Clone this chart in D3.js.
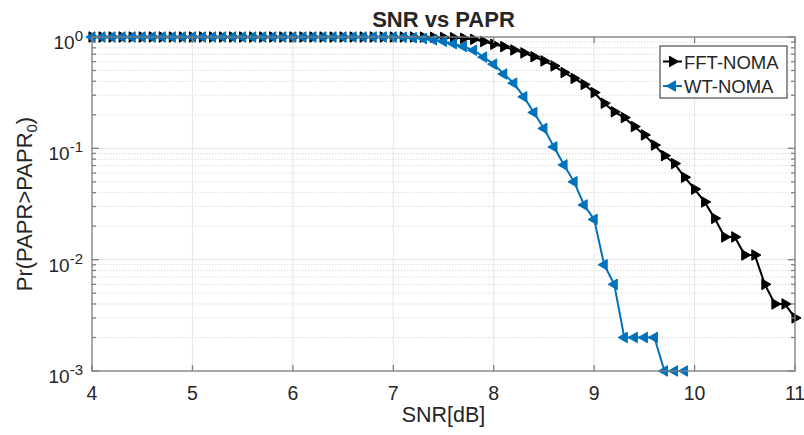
<!DOCTYPE html>
<html lang="en">
  <head>
    <meta charset="UTF-8" />
    <title>SNR vs PAPR</title>
    <style>
      body {
        margin: 0;
        background: #fff;
      }
      svg text {
        font-family: "Liberation Sans", Arial, Helvetica, sans-serif;
        fill: #262626;
      }
    </style>
  </head>
  <body>
    <div id="chart"></div>
    <script src="https://d3js.org/d3.v7.min.js"></script>
    <script>
      // SNR points (dB)
      const snr = [
        4.0, 4.1, 4.2, 4.3, 4.4, 4.5, 4.6, 4.7, 4.8, 4.9,
        5.0, 5.1, 5.2, 5.3, 5.4, 5.5, 5.6, 5.7, 5.8, 5.9,
        6.0, 6.1, 6.2, 6.3, 6.4, 6.5, 6.6, 6.7, 6.8, 6.9,
        7.0, 7.1, 7.2, 7.3, 7.4, 7.5, 7.6, 7.7, 7.8, 7.9,
        8.0, 8.1, 8.2, 8.3, 8.4, 8.5, 8.6, 8.7, 8.8, 8.9,
        9.0, 9.1, 9.2, 9.3, 9.4, 9.5, 9.6, 9.7, 9.8, 9.9,
        10.0, 10.1, 10.2, 10.3, 10.4, 10.5, 10.6, 10.7, 10.8, 10.9,
        11.0
      ];

      // Pr(PAPR > PAPR0)
      const fftNoma = [
        1, 1, 1, 1, 1, 1, 1, 1, 1, 1,
        1, 1, 1, 1, 1, 1, 1, 1, 1, 1,
        1, 1, 1, 1, 1, 1, 1, 1, 1, 1,
        1, 1, 1, 0.998, 0.995, 0.99, 0.985, 0.973, 0.953, 0.91,
        0.86, 0.82, 0.765, 0.72, 0.665, 0.61, 0.55, 0.48, 0.425, 0.375,
        0.317, 0.254, 0.213, 0.189, 0.157, 0.132, 0.107, 0.086, 0.073, 0.055,
        0.043, 0.033, 0.0235, 0.016, 0.016, 0.011, 0.011, 0.006, 0.004, 0.004,
        0.003
      ];

      const wtNoma = [
        1, 1, 1, 1, 1, 1, 1, 1, 1, 1,
        1, 1, 1, 1, 1, 1, 1, 1, 1, 1,
        1, 1, 1, 1, 1, 1, 1, 1, 1, 1,
        1, 0.995, 0.985, 0.97, 0.945, 0.915, 0.87, 0.82, 0.76, 0.66,
        0.57, 0.465, 0.385, 0.29, 0.21, 0.151, 0.103, 0.071, 0.05, 0.031,
        0.023, 0.009, 0.006, 0.002, 0.002, 0.002, 0.002, 0.001, 0.001, 0.001,
        null, null, null, null, null, null, null, null, null, null,
        null
      ];

      const xTicks = [4, 5, 6, 7, 8, 9, 10, 11];
      const yTickExps = [0, -1, -2, -3];
      const seriesNames = ["FFT-NOMA", "WT-NOMA"];
      const seriesColors = ["#000000", "#0072BD"];

      const width = 804;
      const height = 435;
      const margin = { top: 37, right: 9, bottom: 64, left: 92 };
      const innerW = width - margin.left - margin.right;
      const innerH = height - margin.top - margin.bottom;

      const x = d3.scaleLinear().domain([4, 11]).range([0, innerW]);
      const y = d3.scaleLog().domain([1e-3, 1]).range([innerH, 0]);

      const svg = d3
        .select("#chart")
        .append("svg")
        .attr("width", width)
        .attr("height", height);

      const g = svg
        .append("g")
        .attr("transform", `translate(${margin.left},${margin.top})`);

      // minor values for y: 2..9 x 10^k
      const minorY = [];
      [-3, -2, -1].forEach((e) => {
        for (let m = 2; m <= 9; m++) minorY.push(m * Math.pow(10, e));
      });

      // grid
      g.append("g")
        .selectAll("line")
        .data(minorY)
        .join("line")
        .attr("x1", 0)
        .attr("x2", innerW)
        .attr("y1", (d) => y(d))
        .attr("y2", (d) => y(d))
        .attr("stroke", "#dcdcdc")
        .attr("stroke-width", 1)
        .attr("stroke-dasharray", "1.5,1.5");

      g.append("g")
        .selectAll("line")
        .data(yTickExps.map((e) => Math.pow(10, e)))
        .join("line")
        .attr("x1", 0)
        .attr("x2", innerW)
        .attr("y1", (d) => y(d))
        .attr("y2", (d) => y(d))
        .attr("stroke", "#e6e6e6")
        .attr("stroke-width", 1);

      g.append("g")
        .selectAll("line")
        .data(xTicks)
        .join("line")
        .attr("x1", (d) => x(d))
        .attr("x2", (d) => x(d))
        .attr("y1", 0)
        .attr("y2", innerH)
        .attr("stroke", "#e6e6e6")
        .attr("stroke-width", 1);

      // series
      const line = d3
        .line()
        .defined((d) => d[1] != null)
        .x((d) => x(d[0]))
        .y((d) => y(d[1]));

      const tri = d3.symbol().type(d3.symbolTriangle).size(48);

      function drawSeries(values, color, angle) {
        const pts = snr.map((s, i) => [s, values[i]]);
        g.append("path")
          .datum(pts)
          .attr("fill", "none")
          .attr("stroke", color)
          .attr("stroke-width", 2)
          .attr("d", line);
        g.append("g")
          .selectAll("path")
          .data(pts.filter((d) => d[1] != null))
          .join("path")
          .attr("d", tri)
          .attr(
            "transform",
            (d) => `translate(${x(d[0])},${y(d[1])}) rotate(${angle})`
          )
          .attr("fill", color)
          .attr("stroke", color)
          .attr("stroke-width", 1);
      }

      drawSeries(fftNoma, seriesColors[0], 90);
      drawSeries(wtNoma, seriesColors[1], -90);

      // box + ticks
      const axisColor = "#808080";
      g.append("rect")
        .attr("width", innerW)
        .attr("height", innerH)
        .attr("fill", "none")
        .attr("stroke", axisColor)
        .attr("stroke-width", 1.3);

      const ticks = g.append("g").attr("stroke", axisColor).attr("stroke-width", 1.3);
      xTicks.forEach((t) => {
        ticks.append("line").attr("x1", x(t)).attr("x2", x(t)).attr("y1", innerH).attr("y2", innerH - 6);
        ticks.append("line").attr("x1", x(t)).attr("x2", x(t)).attr("y1", 0).attr("y2", 6);
      });
      yTickExps.forEach((e) => {
        const yy = y(Math.pow(10, e));
        ticks.append("line").attr("x1", 0).attr("x2", 7).attr("y1", yy).attr("y2", yy);
        ticks.append("line").attr("x1", innerW).attr("x2", innerW - 7).attr("y1", yy).attr("y2", yy);
      });
      minorY.forEach((v) => {
        const yy = y(v);
        ticks.append("line").attr("x1", 0).attr("x2", 4).attr("y1", yy).attr("y2", yy);
        ticks.append("line").attr("x1", innerW).attr("x2", innerW - 4).attr("y1", yy).attr("y2", yy);
      });

      // tick labels
      g.append("g")
        .selectAll("text")
        .data(xTicks)
        .join("text")
        .attr("x", (d) => x(d))
        .attr("y", innerH + 29)
        .attr("text-anchor", "middle")
        .attr("font-size", 19.5)
        .text((d) => d);

      const yl = g
        .append("g")
        .selectAll("text")
        .data(yTickExps)
        .join("text")
        .attr("x", -9)
        .attr("y", (d) => y(Math.pow(10, d)) + 12)
        .attr("text-anchor", "end")
        .attr("font-size", 19);
      yl.append("tspan").text("10");
      yl.append("tspan")
        .attr("font-size", 15)
        .attr("dy", -8)
        .text((d) => d);

      // title and axis labels
      svg.append("text")
        .attr("x", margin.left + innerW / 2)
        .attr("y", 27)
        .attr("text-anchor", "middle")
        .attr("font-size", 22)
        .attr("font-weight", "bold")
        .attr("fill", "#000")
        .text("SNR vs PAPR");

      svg.append("text")
        .attr("x", margin.left + innerW / 2)
        .attr("y", 422)
        .attr("text-anchor", "middle")
        .attr("font-size", 21.5)
        .text("SNR[dB]");

      const ylab = svg
        .append("text")
        .attr("transform", `translate(32,${margin.top + innerH / 2}) rotate(-90)`)
        .attr("text-anchor", "middle")
        .attr("font-size", 22);
      ylab.append("tspan").text("Pr(PAPR>PAPR");
      ylab.append("tspan").attr("font-size", 15).attr("dy", 5).text("0");
      ylab.append("tspan").attr("dy", -5).text(")");

      // legend
      const lg = svg.append("g").attr("transform", "translate(660,46)");
      lg.append("rect")
        .attr("width", 127)
        .attr("height", 52)
        .attr("fill", "#fff")
        .attr("stroke", "#5a5a5a")
        .attr("stroke-width", 1.3);
      seriesNames.forEach((name, i) => {
        const cy = 15.5 + i * 24.5;
        lg.append("line")
          .attr("x1", 3)
          .attr("x2", 22)
          .attr("y1", cy)
          .attr("y2", cy)
          .attr("stroke", seriesColors[i])
          .attr("stroke-width", 2);
        lg.append("path")
          .attr("d", tri)
          .attr("transform", `translate(12.5,${cy}) rotate(${i === 0 ? 90 : -90})`)
          .attr("fill", seriesColors[i])
          .attr("stroke", seriesColors[i]);
        lg.append("text")
          .attr("x", 24)
          .attr("y", cy + 7)
          .attr("font-size", 18.5)
          .attr("fill", "#000")
          .text(name);
      });
    </script>
  </body>
</html>
